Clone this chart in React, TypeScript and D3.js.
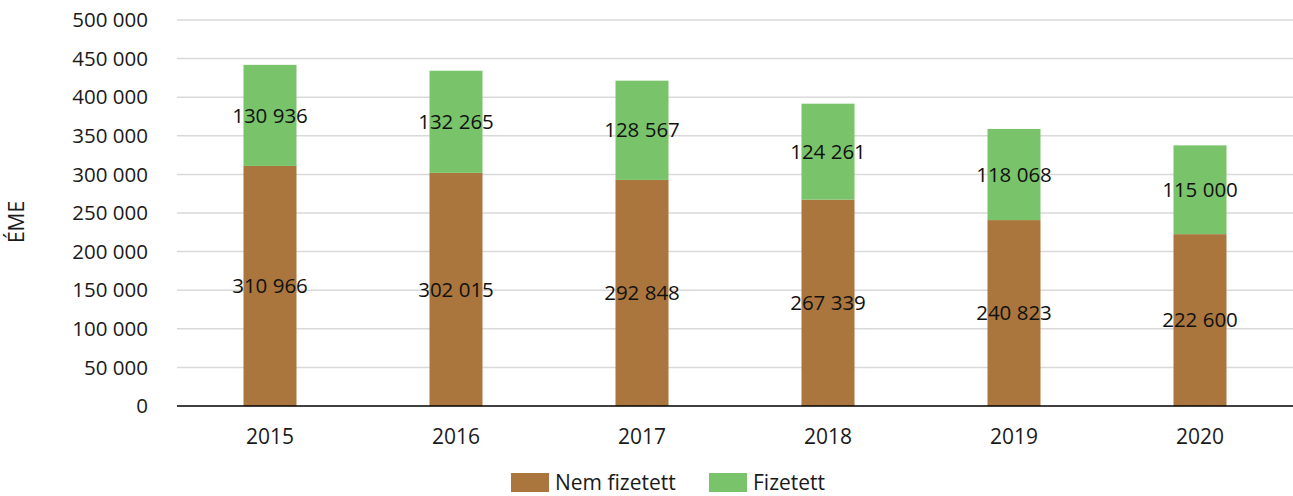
import React, { useEffect, useRef } from "react";
import * as d3 from "d3";

const years = ["2015", "2016", "2017", "2018", "2019", "2020"];
const nemFizetett = [310966, 302015, 292848, 267339, 240823, 222600];
const fizetett = [130936, 132265, 128567, 124261, 118068, 115000];
const yTicks = [0, 50000, 100000, 150000, 200000, 250000, 300000, 350000, 400000, 450000, 500000];

const seriesNames = ["Nem fizetett", "Fizetett"];
const colors = ["#AB763D", "#79C46A"];

const W = 1293;
const H = 496;
const FONT = "'Open Sans', 'Noto Sans', sans-serif";

const fmt = (v: number) => d3.format(",")(v).replace(/,/g, " ");

const App = () => {
  const svgRef = useRef<SVGSVGElement>(null);

  useEffect(() => {
    const svg = d3.select(svgRef.current);
    svg.selectAll("*").remove();

    const left = 177, right = 1293, top = 20, bottom = 406;

    const x = d3.scaleBand().domain(years).range([left, right]).paddingInner(0.715).paddingOuter(0.3575);
    const y = d3.scaleLinear().domain([0, 500000]).range([bottom, top]);

    // gridlines
    svg.append("g")
      .selectAll("line")
      .data(yTicks.filter((t) => t > 0))
      .join("line")
      .attr("x1", left)
      .attr("x2", right)
      .attr("y1", (d) => y(d))
      .attr("y2", (d) => y(d))
      .attr("stroke", "#d9d9d9")
      .attr("stroke-width", 1.5);

    // tick labels
    svg.append("g")
      .selectAll("text")
      .data(yTicks)
      .join("text")
      .attr("x", 148)
      .attr("y", (d) => y(d))
      .attr("dy", "0.35em")
      .attr("text-anchor", "end")
      .style("font-family", FONT)
      .style("font-size", "20.5px")
      .style("fill", "#1a1a1a")
      .text((d) => fmt(d));

    const rows = years.map((yr, i) => ({ year: yr, a: nemFizetett[i], b: fizetett[i] }));
    const stack = d3.stack<any>().keys(["a", "b"])(rows);

    stack.forEach((layer, li) => {
      const g = svg.append("g");
      g.selectAll("rect")
        .data(layer)
        .join("rect")
        .attr("x", (d) => x(d.data.year)!)
        .attr("width", x.bandwidth())
        .attr("y", (d) => y(d[1]))
        .attr("height", (d) => y(d[0]) - y(d[1]))
        .attr("fill", colors[li]);
      g.selectAll("text")
        .data(layer)
        .join("text")
        .attr("x", (d) => x(d.data.year)! + x.bandwidth() / 2)
        .attr("y", (d) => y((d[0] + d[1]) / 2))
        .attr("dy", "0.35em")
        .attr("text-anchor", "middle")
        .style("font-family", FONT)
        .style("font-size", "20.5px")
        .style("fill", "#111")
        .text((d) => fmt(d[1] - d[0]));
    });

    // baseline
    svg.append("line")
      .attr("x1", left)
      .attr("x2", right)
      .attr("y1", bottom)
      .attr("y2", bottom)
      .attr("stroke", "#000")
      .attr("stroke-width", 1.5);

    // x labels
    svg.append("g")
      .selectAll("text")
      .data(years)
      .join("text")
      .attr("x", (d) => x(d)! + x.bandwidth() / 2)
      .attr("y", 437)
      .attr("dy", "0.35em")
      .attr("text-anchor", "middle")
      .style("font-family", FONT)
      .style("font-size", "21px")
      .style("fill", "#1a1a1a")
      .text((d) => d);

    // y title
    svg.append("text")
      .attr("transform", "translate(17,222) rotate(-90)")
      .attr("dy", "0.35em")
      .attr("text-anchor", "middle")
      .style("font-family", FONT)
      .style("font-size", "21px")
      .style("fill", "#1a1a1a")
      .text("ÉME");

    // legend
    const legendX = [511, 709];
    const lg = svg.append("g");
    seriesNames.forEach((name, i) => {
      lg.append("rect")
        .attr("x", legendX[i])
        .attr("y", 473)
        .attr("width", 38)
        .attr("height", 19)
        .attr("fill", colors[i]);
      lg.append("text")
        .attr("x", legendX[i] + 44)
        .attr("y", 483)
        .attr("dy", "0.35em")
        .style("font-family", FONT)
        .style("font-size", "21px")
        .style("fill", "#1a1a1a")
        .text(name);
    });
  }, []);

  return (
    <svg
      ref={svgRef}
      width={W}
      height={H}
      style={{ position: "absolute", left: 0, top: 0, background: "#fff" }}
    />
  );
};

export default App;
